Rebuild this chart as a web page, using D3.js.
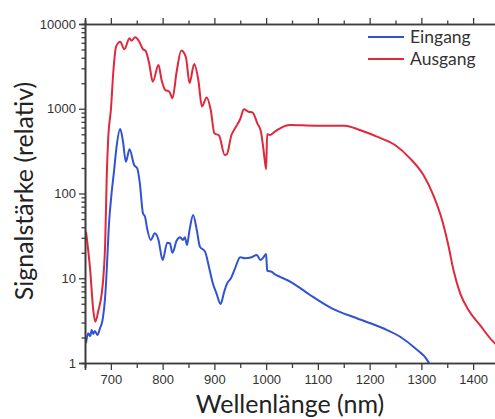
<!DOCTYPE html>
<html>
<head>
<meta charset="utf-8">
<script src="https://cdn.jsdelivr.net/npm/d3@7"></script>
<style>
  body { margin: 0; background: #fff; }
  svg { display: block; }
</style>
</head>
<body>
<script>
// Wellenlaenge (nm) und Signal fuer beide Kurven
var nmAusgang = [652, 660, 666, 670, 676, 682, 685, 689, 692, 695,
                 700, 705, 710, 718, 726, 736, 740, 747, 755, 762,
                 767, 774, 781, 792, 798, 805, 813, 819, 827, 836,
                 845, 852, 861, 869, 876, 885, 893, 900, 909, 920,
                 924, 933, 940, 950, 957, 966, 974, 983, 990, 995,
                 1000, 1002, 1007, 1017, 1027, 1046, 1094, 1152, 1181, 1214,
                 1249, 1278, 1304, 1323, 1339, 1352, 1362, 1375, 1391, 1413,
                 1442, 1452];
var ausgang = [35.4, 12.5, 4.2, 3.07, 4.2, 6.35, 9.5, 26, 158, 468,
               966, 2865, 5400, 6180, 5030, 6780, 6350, 6970, 6180, 5030,
               4840, 3440, 2085, 3280, 2185, 1665, 1590, 1330, 2715, 4870,
               4050, 2013, 3375, 2185, 1063, 1358, 966, 513, 484, 285,
               290, 490, 588, 757, 985, 923, 898, 673, 536, 326,
               193, 504, 490, 536, 588, 643, 631, 631, 561, 468,
               373, 260, 165, 96, 51, 24.7, 12.5, 6.64, 4.22, 2.81,
               1.71, 1.55];

var nmEingang = [652, 656, 660, 663, 666, 669, 674, 679, 684, 689,
                 692, 696, 702, 706, 711, 718, 723, 729, 736, 745,
                 751, 756, 762, 766, 770, 777, 785, 792, 800, 809,
                 814, 819, 827, 834, 839, 843, 847, 852, 859, 866,
                 872, 882, 890, 897, 904, 912, 919, 924, 932, 940,
                 950, 959, 972, 982, 989, 995, 1000, 1002, 1011, 1017,
                 1027, 1052, 1085, 1127, 1175, 1226, 1259, 1288, 1313, 1318];
var eingang = [1.72, 2.24, 2.08, 2.45, 2.2, 2.39, 2.14, 2.57, 3.22, 6.06,
               12.5, 40.6, 110, 181, 357, 577, 428, 237, 332, 217,
               198, 132, 58.4, 53.2, 38.8, 28.3, 33.9, 28.3, 16.4, 26.3,
               25.9, 20, 27.7, 30.4, 28.3, 30.4, 24.7, 37.1, 55.8, 37.1,
               23.6, 20.6, 13.2, 8.72, 6.64, 4.97, 6.94, 8.55, 10, 13.1,
               17.7, 17.2, 17.7, 18.8, 16.4, 17.7, 19.3, 12.3, 11.9, 11.1,
               10.4, 8.72, 6.35, 4.42, 3.37, 2.57, 2.04, 1.49, 1.04, 0.9];

var xMajor = [700, 800, 900, 1000, 1100, 1200, 1300, 1400];
var xMinor = [650, 750, 850, 950, 1050, 1150, 1250, 1350, 1450];
var yMajor = [1, 10, 100, 1000, 10000];
var yMinor = [2, 3, 4, 5, 6, 7, 8, 9,
              20, 30, 40, 50, 60, 70, 80, 90,
              200, 300, 400, 500, 600, 700, 800, 900,
              2000, 3000, 4000, 5000, 6000, 7000, 8000, 9000];

var series = [
    { name: "Eingang", nm: nmEingang, values: eingang, color: "#3152d3" },
    { name: "Ausgang", nm: nmAusgang, values: ausgang, color: "#e0283c" }
];

var width = 495;
var height = 419;
var plotLeft = 85, plotRight = 499, plotTop = 24, plotBottom = 363;
var axisColor = "#3d3d3d";

var svg = d3.select("body")
            .append("svg")
            .attr("width", width)
            .attr("height", height);

var x = d3.scaleLinear().domain([650, 1450]).range([plotLeft, plotRight]);
var y = d3.scaleLog().domain([1, 10000]).range([plotBottom, plotTop]);

svg.append("clipPath")
   .attr("id", "plot")
   .append("rect")
   .attr("x", plotLeft)
   .attr("y", plotTop)
   .attr("width", plotRight - plotLeft)
   .attr("height", plotBottom - plotTop);

var line = d3.line()
             .x(function(d) { return x(d[0]); })
             .y(function(d) { return y(d[1]); })
             .curve(d3.curveMonotoneX);

svg.append("g")
   .attr("clip-path", "url(#plot)")
   .selectAll("path")
   .data(series)
   .enter()
   .append("path")
   .attr("d", function(s) { return line(s.nm.map(function(n, i) { return [n, s.values[i]]; })); })
   .attr("fill", "none")
   .attr("stroke", function(s) { return s.color; })
   .attr("stroke-width", 2)
   .attr("stroke-linejoin", "round");

function styleAxis(g) {
    g.selectAll(".domain").attr("stroke", axisColor).attr("stroke-width", 1.6);
    g.selectAll(".tick line").attr("stroke", axisColor).attr("stroke-width", 1.3);
    g.selectAll(".tick text")
     .attr("fill", "#333")
     .style("font-family", "'Liberation Sans', Arial, sans-serif")
     .style("font-size", "13px");
}

// Achsen unten
svg.append("g")
   .attr("transform", "translate(0," + plotBottom + ")")
   .call(d3.axisBottom(x).tickValues(xMinor).tickSize(5).tickFormat(""))
   .call(styleAxis);
svg.append("g")
   .attr("transform", "translate(0," + plotBottom + ")")
   .call(d3.axisBottom(x).tickValues(xMajor).tickSize(7).tickPadding(5).tickFormat(d3.format("d")))
   .call(styleAxis);

// Achsen oben
svg.append("g")
   .attr("transform", "translate(0," + plotTop + ")")
   .call(d3.axisTop(x).tickValues(xMinor).tickSize(3.5).tickFormat(""))
   .call(styleAxis);
svg.append("g")
   .attr("transform", "translate(0," + plotTop + ")")
   .call(d3.axisTop(x).tickValues(xMajor).tickSize(6).tickFormat(""))
   .call(styleAxis);

// Achse links
svg.append("g")
   .attr("transform", "translate(" + plotLeft + ",0)")
   .call(d3.axisLeft(y).tickValues(yMinor).tickSize(3.5).tickFormat(""))
   .call(styleAxis);
svg.append("g")
   .attr("transform", "translate(" + plotLeft + ",0)")
   .call(d3.axisLeft(y).tickValues(yMajor).tickSize(6).tickPadding(3).tickFormat(d3.format("d")))
   .call(styleAxis);

// Achsentitel
svg.append("text")
   .text("Wellenlänge (nm)")
   .attr("x", 290)
   .attr("y", 413)
   .attr("text-anchor", "middle")
   .attr("fill", "#222")
   .style("font-family", "Lato, sans-serif")
   .style("font-size", "25px");

svg.append("text")
   .text("Signalstärke (relativ)")
   .attr("transform", "translate(33,191) rotate(-90)")
   .attr("text-anchor", "middle")
   .attr("fill", "#222")
   .style("font-family", "Lato, sans-serif")
   .style("font-size", "25px");

// Legende
var legend = svg.append("g")
                .selectAll("g")
                .data(series)
                .enter()
                .append("g")
                .attr("transform", function(d, i) { return "translate(368," + (37 + i * 22) + ")"; });

legend.append("line")
      .attr("x1", 0)
      .attr("x2", 36)
      .attr("stroke", function(d) { return d.color; })
      .attr("stroke-width", 2);

legend.append("text")
      .text(function(d) { return d.name; })
      .attr("x", 42)
      .attr("dy", "0.35em")
      .attr("fill", "#333")
      .style("font-family", "Lato, sans-serif")
      .style("font-size", "17.5px");
</script>
</body>
</html>
